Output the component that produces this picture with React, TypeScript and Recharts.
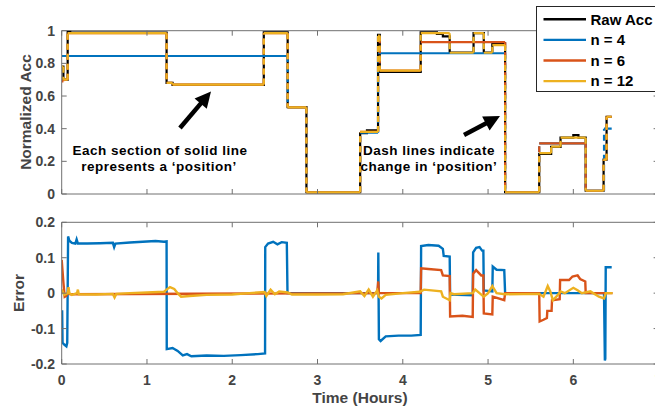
import React from 'react';
import { LineChart, Line, XAxis, YAxis, ReferenceLine } from 'recharts';

// ---------- data ----------
const timeTicks = [0, 1, 2, 3, 4, 5, 6, 7];
const accTicks = [0, 0.2, 0.4, 0.6, 0.8, 1];
const errTicks = [-0.2, -0.1, 0, 0.1, 0.2];

const seriesNames = ['Raw Acc', 'n = 4', 'n = 6', 'n = 12'];
const seriesColors = ['#000000', '#0072BD', '#D95319', '#EDB120'];

// step series: value v[i] holds from t[i] to t[i+1]
const rawT = [0, 0.02, 0.07, 0.10, 1.23, 1.30, 2.37, 2.65, 2.87, 3.50, 3.58, 3.71, 3.73, 4.21, 4.40, 4.47, 4.55, 4.83, 4.95, 5.05, 5.20, 5.60, 5.74, 5.85, 6.00, 6.06, 6.145, 6.355, 6.39, 6.45];
const rawV = [0.78, 0.70, 0.995, 0.988, 0.68, 0.668, 0.99, 0.532, 0.012, 0.372, 0.39, 0.975, 0.748, 0.99, 0.98, 0.965, 0.866, 0.985, 0.866, 0.922, 0.012, 0.245, 0.288, 0.345, 0.36, 0.345, 0.02, 0.21, 0.473];

const n4T = [0, 2.65, 2.87, 3.50, 3.71, 5.20, 5.60, 6.145, 6.36, 6.45];
const n4V = [0.845, 0.53, 0.01, 0.375, 0.862, 0.01, 0.31, 0.02, 0.40];

const n6T = [0, 0.02, 0.07, 1.23, 1.30, 2.37, 2.65, 2.87, 3.50, 3.71, 3.73, 4.21, 5.20, 5.60, 6.145, 6.355, 6.39, 6.45];
const n6V = [0.69, 0.70, 0.985, 0.68, 0.67, 0.985, 0.53, 0.01, 0.38, 0.96, 0.755, 0.93, 0.01, 0.31, 0.02, 0.21, 0.473];

const n12T = [0, 0.02, 0.07, 1.23, 1.30, 2.37, 2.65, 2.87, 3.50, 3.71, 3.73, 4.21, 4.55, 4.83, 4.95, 5.05, 5.20, 5.60, 5.74, 5.85, 6.145, 6.355, 6.39, 6.45];
const n12V = [0.78, 0.70, 0.985, 0.68, 0.67, 0.985, 0.53, 0.01, 0.38, 0.97, 0.755, 0.985, 0.865, 0.985, 0.865, 0.912, 0.01, 0.25, 0.29, 0.345, 0.02, 0.21, 0.473];

// error series (time, error)
const errN4T = [0.005, 0.01, 0.03, 0.055, 0.065, 0.075, 0.09, 0.12, 0.16, 0.175, 0.19, 0.3, 0.45, 0.6, 0.615, 0.63, 0.8, 0.95, 1.1, 1.2, 1.23, 1.232, 1.3, 1.36, 1.42, 1.47, 1.52, 1.7, 1.9, 2.1, 2.3, 2.385, 2.387, 2.42, 2.48, 2.53, 2.58, 2.64, 2.648, 3.71, 3.713, 3.72, 3.74, 3.8, 3.95, 4.1, 4.21, 4.215, 4.3, 4.42, 4.47, 4.48, 4.55, 4.555, 4.82, 4.825, 4.86, 4.9, 4.93, 4.945, 4.95, 5.05, 5.055, 5.1, 5.19, 5.2, 6.36, 6.37, 6.375, 6.38, 6.45];
const errN4V = [-0.048, -0.14, -0.145, -0.15, -0.14, 0.16, 0.148, 0.142, 0.14, 0.152, 0.14, 0.14, 0.141, 0.142, 0.13, 0.14, 0.143, 0.145, 0.147, 0.145, 0.146, -0.158, -0.155, -0.163, -0.176, -0.172, -0.178, -0.176, -0.177, -0.175, -0.172, -0.17, 0.13, 0.14, 0.145, 0.138, 0.144, 0.142, 0.0, 0.0, 0.115, -0.13, -0.135, -0.122, -0.12, -0.12, -0.118, 0.133, 0.136, 0.134, 0.125, 0.105, 0.103, -0.004, -0.006, 0.115, 0.128, 0.13, 0.12, 0.12, 0.008, 0.005, 0.075, 0.066, 0.065, 0.0, 0.0, -0.19, -0.185, 0.073, 0.073];

const errN6T = [0, 0.02, 0.035, 0.05, 0.07, 0.1, 3.70, 3.712, 3.72, 4.21, 4.215, 4.3, 4.45, 4.47, 4.55, 4.555, 4.7, 4.82, 4.825, 4.86, 4.92, 4.945, 4.95, 5.05, 5.055, 5.19, 5.2, 5.6, 5.605, 5.65, 5.69, 5.695, 5.745, 5.75, 5.84, 5.845, 5.95, 5.99, 6.05, 6.08, 6.14, 6.145, 6.46];
const errN6V = [0.094, 0.03, -0.01, -0.008, 0.0, -0.003, 0.0, 0.033, 0.0, 0.0, 0.07, 0.068, 0.065, 0.05, 0.048, -0.066, -0.064, -0.067, 0.055, 0.065, 0.05, 0.05, -0.057, -0.06, -0.01, -0.02, 0.0, 0.0, -0.08, -0.075, -0.07, -0.05, -0.05, -0.02, -0.017, 0.037, 0.037, 0.047, 0.05, 0.04, 0.033, 0.0, 0.0];

const errN12T = [0, 0.03, 0.07, 0.08, 0.09, 0.12, 0.18, 0.19, 0.2, 0.4, 0.6, 0.62, 0.64, 0.8, 1.0, 1.2, 1.23, 1.27, 1.32, 1.36, 1.4, 1.5, 1.7, 2.0, 2.2, 2.38, 2.4, 2.45, 2.5, 2.55, 2.65, 2.7, 3.0, 3.3, 3.5, 3.55, 3.6, 3.65, 3.7, 3.72, 3.75, 3.8, 4.0, 4.2, 4.25, 4.45, 4.47, 4.55, 4.56, 4.6, 4.82, 4.85, 4.9, 4.95, 5.0, 5.05, 5.1, 5.2, 5.6, 5.65, 5.7, 5.73, 5.76, 5.8, 5.85, 5.9, 6.0, 6.05, 6.1, 6.2, 6.3, 6.36, 6.38, 6.46];
const errN12V = [0.01, -0.005, 0.0, 0.017, 0.0, -0.005, 0.0, 0.01, -0.003, -0.004, -0.002, -0.012, -0.002, 0.0, 0.002, 0.004, 0.01, 0.017, 0.012, 0.0, -0.01, -0.008, -0.005, -0.004, 0.0, 0.003, -0.008, 0.01, -0.003, 0.005, 0.002, -0.004, -0.004, -0.003, 0.005, -0.008, 0.01, -0.01, 0.008, -0.01, -0.015, -0.005, 0.0, 0.004, 0.01, 0.005, -0.01, -0.02, 0.0, -0.003, 0.0, 0.01, 0.0, -0.01, 0.0, 0.02, 0.0, -0.003, -0.002, -0.01, 0.02, 0.005, -0.02, -0.01, 0.005, 0.0, 0.015, 0.008, 0.0, 0.005, -0.01, -0.015, 0.0, 0.0];

// annotations
const arrowSegments = [
  { from: { t: 1.387, v: 0.404 }, to: { t: 1.751, v: 0.628 } },
  { from: { t: 4.718, v: 0.361 }, to: { t: 5.14, v: 0.478 } },
];

// ---------- helpers ----------
type Pt = { t: number; y: number | null };
function stepLine(ts: number[], vs: number[]): Pt[] {
  const out: Pt[] = [];
  for (let i = 0; i < vs.length; i++) {
    out.push({ t: ts[i], y: vs[i] });
    out.push({ t: ts[i + 1], y: vs[i] });
  }
  return out;
}
function stepFlats(ts: number[], vs: number[]): Pt[] {
  const out: Pt[] = [];
  for (let i = 0; i < vs.length; i++) {
    out.push({ t: ts[i], y: vs[i] });
    out.push({ t: ts[i + 1], y: vs[i] });
    out.push({ t: ts[i + 1], y: null });
  }
  return out;
}
function stepRisers(ts: number[], vs: number[]): Pt[] {
  const out: Pt[] = [];
  for (let i = 1; i < vs.length; i++) {
    out.push({ t: ts[i], y: vs[i - 1] });
    out.push({ t: ts[i], y: vs[i] });
    out.push({ t: ts[i], y: null });
  }
  return out;
}
function pairs(ts: number[], vs: number[]): Pt[] {
  return ts.map((t, i) => ({ t, y: vs[i] }));
}

const FONT = '"Liberation Sans", Arial, Helvetica, sans-serif';
const AXIS = '#707070';
const TICKTXT = '#444444';
const LW = 2.2;
const DASH = '6 4';
const TICKLEN = 5;

// plot geometry (px)
const PLOT_LEFT = 61.7;
const PLOT_RIGHT = 658.6;
const PLOT_W = PLOT_RIGHT - PLOT_LEFT;
const TOP_H = 194 - 30.7;
const BOT_H = 364 - 222.3;

const ArrowShape = (p: any) => {
  const { x1, y1, x2, y2 } = p;
  const dx = x2 - x1, dy = y2 - y1;
  const len = Math.hypot(dx, dy) || 1;
  const ux = dx / len, uy = dy / len;
  const head = 16, half = 8;
  const bx = x2 - ux * head, by = y2 - uy * head;
  const px = -uy, py = ux;
  return (
    <g>
      <line x1={x1} y1={y1} x2={bx + ux * 2} y2={by + uy * 2} stroke="#000" strokeWidth={4.5} />
      <polygon points={`${x2},${y2} ${bx + px * half},${by + py * half} ${bx - px * half},${by - py * half}`} fill="#000" />
    </g>
  );
};

const txt = { fill: TICKTXT, fontSize: 14, fontWeight: 700, fontFamily: FONT } as const;

const makeXTick = (plotH: number, showLabel: boolean) => (p: any) => (
  <g>
    <line x1={p.x} x2={p.x} y1={p.y} y2={p.y - TICKLEN} stroke={AXIS} strokeWidth={1} />
    <line x1={p.x} x2={p.x} y1={p.y - plotH} y2={p.y - plotH + TICKLEN} stroke={AXIS} strokeWidth={1} />
    {showLabel ? (
      <text x={p.x} y={p.y + 21} textAnchor="middle" {...txt}>{String(p.payload.value)}</text>
    ) : null}
  </g>
);

const makeYTick = (p: any) => (
  <g>
    <line x1={p.x} x2={p.x + TICKLEN} y1={p.y} y2={p.y} stroke={AXIS} strokeWidth={1} />
    <line x1={p.x + PLOT_W} x2={p.x + PLOT_W - TICKLEN} y1={p.y} y2={p.y} stroke={AXIS} strokeWidth={1} />
    <text x={p.x - 6.7} y={p.y + 5} textAnchor="end" {...txt}>{String(p.payload.value)}</text>
  </g>
);

export default function App() {
  const W = 680;
  const marginLR = { left: PLOT_LEFT - 50, right: W - PLOT_RIGHT };
  const names = seriesNames;
  const colors = seriesColors;

  return (
    <div style={{ position: 'fixed', left: 0, top: 0, width: 655, height: 410, overflow: 'hidden', background: '#fff' }}>
      {/* top plot */}
      <div style={{ position: 'absolute', left: 0, top: 0 }}>
        <LineChart width={W} height={208} margin={{ top: 30.7, bottom: 8, ...marginLR }}>
          <XAxis dataKey="t" type="number" domain={[0, 7]} ticks={timeTicks} interval={0} height={6}
            tickSize={0} tickMargin={0} tickLine={false} tick={makeXTick(TOP_H, false)}
            axisLine={{ stroke: AXIS, strokeWidth: 1 }} allowDataOverflow />
          <YAxis type="number" domain={[0, 1]} ticks={accTicks} interval={0} width={50}
            tickSize={0} tickMargin={0} tickLine={false} tick={makeYTick}
            axisLine={{ stroke: AXIS, strokeWidth: 1 }} allowDataOverflow />
          <ReferenceLine y={1} stroke={AXIS} strokeWidth={1} />
          <ReferenceLine x={7} stroke={AXIS} strokeWidth={1} />
          <Line data={stepLine(rawT, rawV)} dataKey="y" stroke={colors[0]} strokeWidth={LW} dot={false} isAnimationActive={false} />
          <Line data={stepFlats(n4T, n4V)} dataKey="y" stroke={colors[1]} strokeWidth={LW} dot={false} isAnimationActive={false} />
          <Line data={stepRisers(n4T, n4V)} dataKey="y" stroke={colors[1]} strokeWidth={LW} strokeDasharray={DASH} dot={false} isAnimationActive={false} />
          <Line data={stepFlats(n6T, n6V)} dataKey="y" stroke={colors[2]} strokeWidth={LW} dot={false} isAnimationActive={false} />
          <Line data={stepRisers(n6T, n6V)} dataKey="y" stroke={colors[2]} strokeWidth={LW} strokeDasharray={DASH} dot={false} isAnimationActive={false} />
          <Line data={stepFlats(n12T, n12V)} dataKey="y" stroke={colors[3]} strokeWidth={LW} dot={false} isAnimationActive={false} />
          <Line data={stepRisers(n12T, n12V)} dataKey="y" stroke={colors[3]} strokeWidth={LW} strokeDasharray={DASH} dot={false} isAnimationActive={false} />
          {arrowSegments.map((a, i) => (
            <ReferenceLine key={i} segment={[{ x: a.from.t, y: a.from.v }, { x: a.to.t, y: a.to.v }]} shape={ArrowShape} ifOverflow="visible" />
          ))}
        </LineChart>
      </div>

      {/* bottom plot */}
      <div style={{ position: 'absolute', left: 0, top: 200 }}>
        <LineChart width={W} height={210} margin={{ top: 22.3, bottom: 0, ...marginLR }}>
          <XAxis dataKey="t" type="number" domain={[0, 7]} ticks={timeTicks} interval={0} height={46}
            tickSize={0} tickMargin={0} tickLine={false} tick={makeXTick(BOT_H, true)}
            axisLine={{ stroke: AXIS, strokeWidth: 1 }} allowDataOverflow />
          <YAxis type="number" domain={[-0.2, 0.2]} ticks={errTicks} interval={0} width={50}
            tickSize={0} tickMargin={0} tickLine={false} tick={makeYTick}
            axisLine={{ stroke: AXIS, strokeWidth: 1 }} allowDataOverflow />
          <ReferenceLine y={0.2} stroke={AXIS} strokeWidth={1} />
          <ReferenceLine x={7} stroke={AXIS} strokeWidth={1} />
          <Line data={pairs(errN4T, errN4V)} dataKey="y" stroke={colors[1]} strokeWidth={2.4} dot={false} isAnimationActive={false} />
          <Line data={pairs(errN6T, errN6V)} dataKey="y" stroke={colors[2]} strokeWidth={2.4} dot={false} isAnimationActive={false} />
          <Line data={pairs(errN12T, errN12V)} dataKey="y" stroke={colors[3]} strokeWidth={2.4} dot={false} isAnimationActive={false} />
        </LineChart>
      </div>

      {/* titles & annotation text */}
      <svg width={655} height={410} style={{ position: 'absolute', left: 0, top: 0, pointerEvents: 'none' }}
        fontFamily={FONT} fontWeight={700}>
        <text x={30.5} y={112} transform="rotate(-90 30.5 112)" textAnchor="middle" fontSize={15.5} fill={TICKTXT}>Normalized Acc</text>
        <text x={24} y={293} transform="rotate(-90 24 293)" textAnchor="middle" fontSize={15.5} fill={TICKTXT}>Error</text>
        <text x={360} y={403} textAnchor="middle" fontSize={15.5} fill={TICKTXT}>Time (Hours)</text>
        <g fontSize={13.5} fill="#000" letterSpacing={0.5} textAnchor="middle" style={{ whiteSpace: 'pre' }}>
          <text x={160} y={155}>Each section of solid line</text>
          <text x={159} y={171}>represents  a  ‘position’</text>
          <text x={429} y={155}>Dash lines indicate</text>
          <text x={429} y={171}>change in ‘position’</text>
        </g>
      </svg>

      {/* legend */}
      <div style={{ position: 'absolute', left: 536, top: 5.5, width: 130, height: 84, border: '1px solid #262626', background: '#fff' }}>
        <svg width={130} height={84} fontFamily={FONT} fontWeight={700}>
          {names.map((n, i) => {
            const y = 12.3 + i * 20.6;
            return (
              <g key={n}>
                <line x1={6.5} x2={49} y1={y} y2={y} stroke={colors[i]} strokeWidth={2.4} />
                <text x={53.5} y={y + 5.3} fontSize={15} fill="#000">{n}</text>
              </g>
            );
          })}
        </svg>
      </div>
    </div>
  );
}
